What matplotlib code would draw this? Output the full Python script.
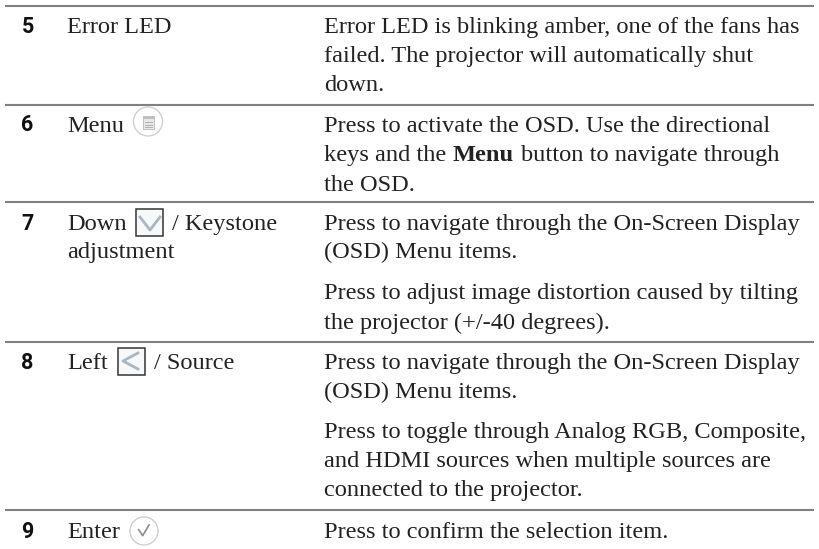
import matplotlib
matplotlib.use("Agg")
import matplotlib.pyplot as plt
from matplotlib.patches import Circle, Rectangle

W, H = 819, 549
RULE_Y = [6, 105, 202, 342, 510]
NUMBERS = ["5", "6", "7", "8", "9"]
NUMBER_Y = [33, 131, 230, 369, 538]
NAMES = [
    (67, 33, "Error LED"),
    (67, 132, "Menu"),
    (67, 230, "Down"),
    (172, 230, "/ Keystone"),
    (67, 258, "adjustment"),
    (67, 369, "Left"),
    (154, 369, "/ Source"),
    (67, 538, "Enter"),
]
DESCRIPTIONS = [
    (324, 33, "Error LED is blinking amber, one of the fans has"),
    (324, 62, "failed. The projector will automatically shut"),
    (324, 91, "down."),
    (324, 132, "Press to activate the OSD. Use the directional"),
    (324, 161, "keys and the"),
    (521, 161, "button to navigate through"),
    (324, 191, "the OSD."),
    (324, 230, "Press to navigate through the On-Screen Display"),
    (324, 258, "(OSD) Menu items."),
    (324, 299, "Press to adjust image distortion caused by tilting"),
    (324, 329, "the projector (+/-40 degrees)."),
    (324, 369, "Press to navigate through the On-Screen Display"),
    (324, 398, "(OSD) Menu items."),
    (324, 438, "Press to toggle through Analog RGB, Composite,"),
    (324, 467, "and HDMI sources when multiple sources are"),
    (324, 496, "connected to the projector."),
    (324, 538, "Press to confirm the selection item."),
]
BOLD_WORD = (453, 161, "Menu")

fig = plt.figure(figsize=(W / 100, H / 100), dpi=100)
ax = fig.add_axes([0, 0, 1, 1])
ax.set_xlim(0, W)
ax.set_ylim(H, 0)
ax.axis("off")

SERIF = "Liberation Serif"
FS = 17.6
INK = "#222222"
for y in RULE_Y:
    ax.plot([5, 814], [y, y], color="#808080", lw=1.5, solid_capstyle="butt")
for y, n in zip(NUMBER_Y, NUMBERS):
    ax.text(21.5, y, n, family="Roboto", weight="bold", fontsize=15.5,
            color="#111111", va="baseline")
for x, y, s in NAMES + DESCRIPTIONS:
    ax.text(x, y, s, family=SERIF, fontsize=FS, color=INK, va="baseline")
ax.text(BOLD_WORD[0], BOLD_WORD[1], BOLD_WORD[2], family=SERIF, weight="bold",
        fontsize=FS, color=INK, va="baseline")

# button icons
ax.add_patch(Circle((148, 121.5), 14.5, fc="white", ec="#c6ccd6", lw=0.9))
ax.add_patch(Rectangle((143, 116), 10.5, 13, fc="#e8e8e8", ec="#c0c0c0", lw=0.7))
ax.add_patch(Rectangle((143, 116), 10.5, 3, fc="#c0c0c0", ec="none"))
for y in (122, 124.5, 127):
    ax.plot([144.5, 152], [y, y], color="#b0b0b0", lw=0.7)

ax.add_patch(Circle((144, 531), 14, fc="white", ec="#c6ccd6", lw=0.9))
ax.plot([138.7, 142.7, 149], [529.7, 535.7, 525], color="#8a8a8a", lw=1.2)

ax.add_patch(Rectangle((136, 208.5), 27, 27.5, fc="#f6f8f9", ec="#333333", lw=1.1))
ax.plot([140, 150, 160], [217, 230, 217], color="#a9b8c0", lw=2.0)

ax.add_patch(Rectangle((117.5, 347.5), 27, 27, fc="#f6f8f9", ec="#333333", lw=1.1))
ax.plot([138, 123, 138], [353, 361, 369], color="#a9b8c0", lw=2.0)

fig.savefig("out.png", dpi=100)
